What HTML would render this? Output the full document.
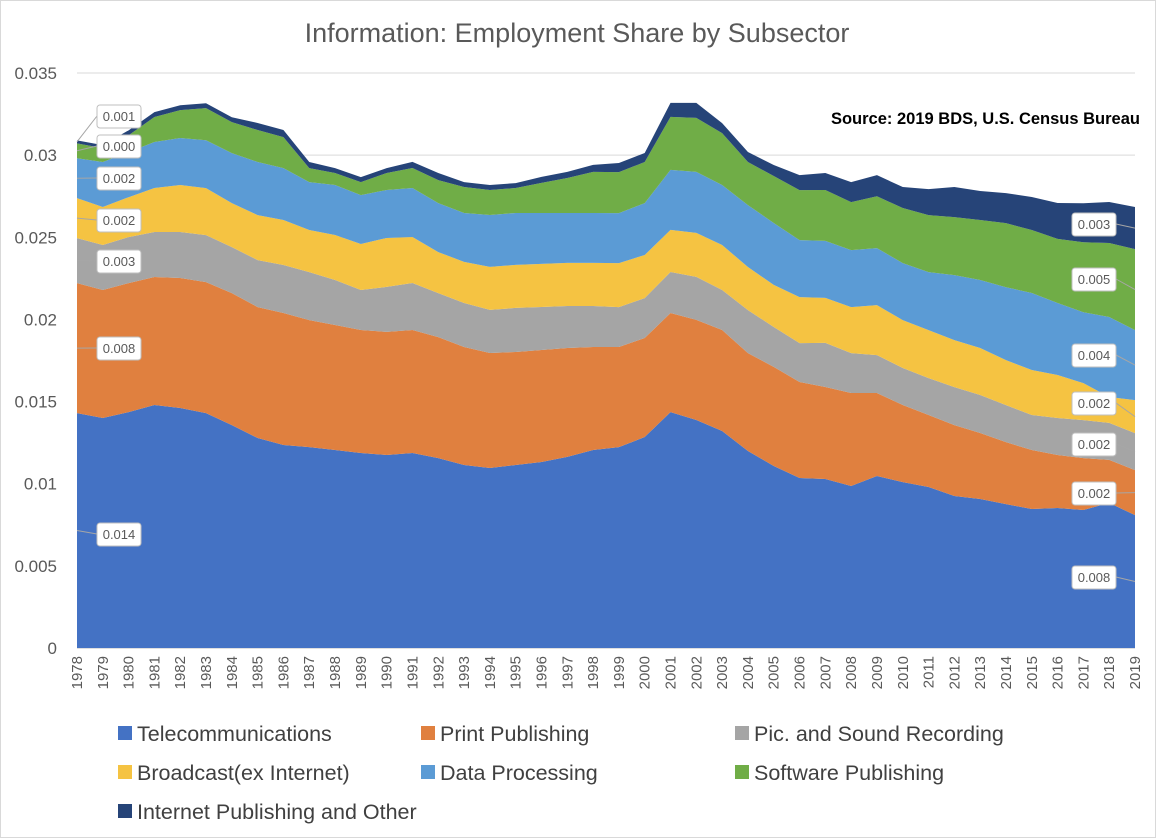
<!DOCTYPE html>
<html><head><meta charset="utf-8">
<style>
body{margin:0;background:#fff;}
#wrap{position:relative;width:1156px;height:838px;overflow:hidden;background:#fff;font-family:"Liberation Sans",sans-serif;}
svg text{font-family:"Liberation Sans",sans-serif;}
</style></head>
<body>
<div id="wrap">
<svg id="chart" width="1156" height="838">
<rect x="0.5" y="0.5" width="1155" height="837" fill="#fff" stroke="#d9d9d9"/>
<text x="577" y="42" text-anchor="middle" font-size="27" fill="#595959">Information: Employment Share by Subsector</text>
<text x="1140" y="124" text-anchor="end" font-size="16.5" font-weight="bold" fill="#000">Source: 2019 BDS, U.S. Census Bureau</text>
<g id="grid"></g><g id="areas"></g><g id="yaxis"></g><g id="xaxis"></g><g id="labels"></g><g id="legend"></g>
</svg>
</div>
<script>
const years = [1978,1979,1980,1981,1982,1983,1984,1985,1986,1987,1988,1989,1990,1991,1992,1993,1994,1995,1996,1997,1998,1999,2000,2001,2002,2003,2004,2005,2006,2007,2008,2009,2010,2011,2012,2013,2014,2015,2016,2017,2018,2019];
const seriesNames = ["Telecommunications","Print Publishing","Pic. and Sound Recording","Broadcast(ex Internet)","Data Processing","Software Publishing","Internet Publishing and Other"];
const telecom = [14.30,14.00,14.36,14.79,14.61,14.30,13.57,12.78,12.36,12.23,12.05,11.87,11.75,11.87,11.56,11.14,10.96,11.14,11.32,11.63,12.05,12.23,12.84,14.36,13.88,13.21,11.99,11.08,10.35,10.29,9.86,10.47,10.10,9.80,9.25,9.07,8.76,8.46,8.52,8.40,8.83,8.09];
const printPub = [7.91,7.79,7.85,7.79,7.91,7.97,8.03,7.97,8.03,7.73,7.61,7.49,7.49,7.49,7.36,7.18,7.00,6.88,6.82,6.63,6.27,6.09,6.03,6.03,6.09,6.15,5.96,6.03,5.84,5.60,5.66,5.05,4.69,4.38,4.32,4.02,3.77,3.59,3.23,3.16,2.62,2.74];
const picSound = [2.74,2.74,2.80,2.74,2.80,2.86,2.80,2.86,2.92,2.92,2.74,2.43,2.74,2.86,2.68,2.68,2.62,2.68,2.62,2.56,2.50,2.43,2.43,2.50,2.62,2.43,2.62,2.43,2.37,2.68,2.43,2.31,2.25,2.25,2.31,2.31,2.25,2.13,2.25,2.31,2.25,2.25];
const broadcast = [2.43,2.31,2.43,2.68,2.86,2.86,2.68,2.74,2.74,2.56,2.74,2.80,2.98,2.80,2.50,2.50,2.62,2.62,2.62,2.62,2.62,2.68,2.62,2.56,2.68,2.74,2.62,2.56,2.80,2.74,2.80,3.04,2.92,2.92,2.86,2.86,2.74,2.74,2.62,2.25,1.58,2.01];
const dataProc = [2.43,2.74,2.74,2.80,2.86,2.92,3.04,3.23,3.16,2.92,3.04,2.98,2.92,2.98,2.98,2.98,3.16,3.16,3.10,3.04,3.04,3.04,3.16,3.65,3.71,3.65,3.77,3.77,3.47,3.47,3.47,3.47,3.47,3.53,3.96,4.14,4.44,4.69,4.38,4.32,4.87,4.26];
const software = [0.91,0.85,1.03,1.52,1.70,1.95,1.89,1.95,1.89,0.85,0.73,0.79,1.03,1.22,1.40,1.58,1.52,1.52,1.83,2.13,2.50,2.50,2.50,3.23,3.29,3.16,2.62,2.86,3.04,3.10,2.92,3.16,3.35,3.47,3.53,3.65,3.90,3.83,3.90,4.26,4.50,4.93];
const internet = [0.18,0.18,0.30,0.30,0.30,0.30,0.30,0.43,0.43,0.37,0.30,0.30,0.30,0.37,0.43,0.30,0.30,0.30,0.37,0.37,0.43,0.55,0.55,0.85,0.91,0.61,0.61,0.67,0.91,1.03,1.22,1.28,1.28,1.58,1.83,1.77,1.83,2.01,2.19,2.37,2.50,2.56];
const yTicks = [0,0.005,0.01,0.015,0.02,0.025,0.03,0.035];
const yTickLabels = ["0","0.005","0.01","0.015","0.02","0.025","0.03","0.035"];
const firstLabels = ["0.014","0.008","0.003","0.002","0.002","0.000","0.001"];
const lastLabels = ["0.008","0.002","0.002","0.002","0.004","0.005","0.003"];

const NS="http://www.w3.org/2000/svg";
const X0=77,X1=1135,Y0=648,Y1=73,VMAX=0.035;
const xs=i=>X0+(X1-X0)*i/(years.length-1);
const ys=v=>Y0-(Y0-Y1)*v/VMAX;
function mk(tag,attrs,parent){const e=document.createElementNS(NS,tag);for(const k in attrs)e.setAttribute(k,attrs[k]);parent.appendChild(e);return e;}
const colors=["#4472C4","#E0803F","#A5A5A5","#F5C342","#5B9BD5","#70AD47","#264478"];
const allSeries=[telecom,printPub,picSound,broadcast,dataProc,software,internet].map(a=>a.map(v=>v/1000));
const slugs=["telecommunications","print-publishing","pic-sound-recording","broadcast","data-processing","software-publishing","internet-publishing"];

const grid=document.getElementById('grid');
yTicks.forEach((t,i)=>{
  const l=mk('line',{x1:X0,x2:X1,y1:ys(t),y2:ys(t),stroke:i==0?'#bfbfbf':'#d9d9d9','stroke-width':1},grid);
  
  
});
const yaxis=document.getElementById('yaxis');
yTicks.forEach((t,i)=>{
  const tx=mk('text',{x:57,y:ys(t)+6,'text-anchor':'end','font-size':17,fill:'#595959'},yaxis);
  tx.textContent=yTickLabels[i];
  
  
});
const xaxis=document.getElementById('xaxis');
years.forEach((y,i)=>{
  const tx=mk('text',{x:0,y:0,'text-anchor':'end','font-size':15,fill:'#595959',transform:`translate(${xs(i)+5},656) rotate(-90)`},xaxis);
  tx.textContent=y;
  
  
});
const areas=document.getElementById('areas');
let base=years.map(()=>0);
const tops=[];
allSeries.forEach((s,k)=>{
  const top=base.map((b,i)=>b+s[i]);
  let d='M'+top.map((v,i)=>xs(i)+','+ys(v)).join(' L');
  for(let i=years.length-1;i>=0;i--)d+=' L'+xs(i)+','+ys(base[i]);
  d+='Z';
  const p=mk('path',{d:d,fill:colors[k]},areas);
  
  
  tops.push({base:base.slice(),top:top});
  base=top;
});
const labels=document.getElementById('labels');
const leftBoxY=[534,348,261,220,178,146,116];
const rightBoxY=[577,493,444,403,355,279,224];
function addLabel(txt,bx,by,ax,ay,name){
  const g=mk('g',{},labels);
  
  
  mk('polyline',{points:`${ax},${ay} ${bx<ax?bx+44:bx},${by}`,fill:'none',stroke:'#a6a6a6','stroke-width':1},g);
  mk('rect',{x:bx,y:by-11,width:44,height:23,rx:3,fill:'#fff',stroke:'#bfbfbf'},g);
  const t=mk('text',{x:bx+22,y:by+5,'text-anchor':'middle','font-size':13,fill:'#595959'},g);
  t.textContent=txt;
}
const n=years.length-1;
tops.forEach((tp,k)=>{
  addLabel(firstLabels[k],97,leftBoxY[k],X0,ys((tp.base[0]+tp.top[0])/2),'data-label-first-'+slugs[k]);
  addLabel(lastLabels[k],1072,rightBoxY[k],X1,ys((tp.base[n]+tp.top[n])/2),'data-label-last-'+slugs[k]);
});
const legend=document.getElementById('legend');
const legPos=[[118,733],[421,733],[735,733],[118,772],[421,772],[735,772],[118,811]];
seriesNames.forEach((nm,k)=>{
  const g=mk('g',{},legend);
  
  
  mk('rect',{x:legPos[k][0],y:legPos[k][1]-7,width:14,height:14,fill:colors[k]},g);
  const t=mk('text',{x:legPos[k][0]+19,y:legPos[k][1]+8,'font-size':21.5,fill:'#404040'},g);
  t.textContent=nm;
});
</script>
</body></html>
